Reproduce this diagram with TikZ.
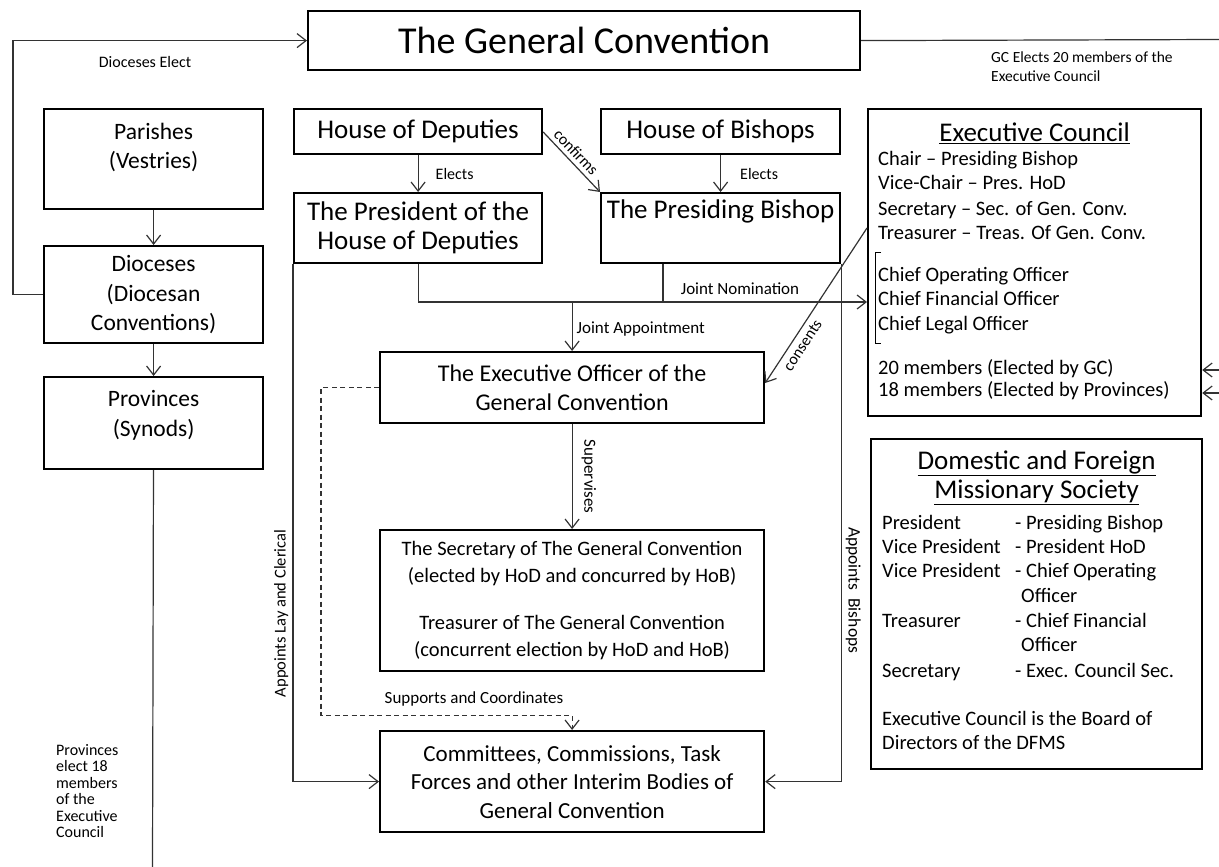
\documentclass[tikz,border=0pt]{standalone}
\usepackage{fontspec}
\setmainfont{Carlito}
\usetikzlibrary{arrows.meta,calc}

% box whose text sits at the top
\newcommand{\topbox}[4]{\parbox[c][#2][t]{#1}{\centering\vspace*{#3}#4}}

\tikzset{
  box/.style={draw, line width=2.2pt, inner sep=0pt, align=center,
    anchor=north west, font=\fontsize{23.5}{29.5}\selectfont},
  conn/.style={draw=black!80, line width=1.2pt},
  arr/.style={conn, -{Straight Barb[length=9pt,width=14pt]}},
  lbl/.style={font=\fontsize{16}{18}\selectfont, inner sep=1pt},
  ecline/.style={font=\fontsize{20.5}{24}\selectfont, anchor=west, inner sep=0pt,
    text height=1.5ex, text depth=.25ex},
  ectitle/.style={font=\fontsize{27}{30}\selectfont, inner sep=0pt},
}

\begin{document}
\begin{tikzpicture}[x=1pt, y=-1pt]
  \useasboundingbox (0,0) rectangle (1219,867);

  % Top box
  \node[box, minimum width=552pt, minimum height=59pt,
    font=\fontsize{38}{44}\selectfont] (gc) at (307,10) {The General Convention};

  % Left column
  \node[box] (parishes) at (43,108) {\topbox{219pt}{100pt}{14pt}{Parishes\\(Vestries)}};
  \node[box, minimum width=219pt, minimum height=97pt] (dioceses) at (43,245)
    {Dioceses\\(Diocesan\\Conventions)};
  \node[box] (provinces) at (43,376) {\topbox{219pt}{92pt}{13.5pt}{Provinces\\(Synods)}};

  % Houses and their officers
  \node[box, minimum width=248pt, minimum height=45pt,
    font=\fontsize{27}{29}\selectfont] (hod) at (293,108) {House of Deputies};
  \node[box, minimum width=239pt, minimum height=45pt,
    font=\fontsize{27}{29}\selectfont] (hob) at (600,108) {House of Bishops};
  \node[box, minimum width=248pt, minimum height=70pt,
    font=\fontsize{27}{29}\selectfont] (pres) at (293,192) {The President of the\\House of Deputies};
  \node[box, font=\fontsize{27}{29}\selectfont] (pb) at (600,192)
    {\topbox{239pt}{70pt}{7pt}{The Presiding Bishop}};

  % Middle column
  \node[box, minimum width=384pt, minimum height=71pt,
    font=\fontsize{24}{29}\selectfont] (eo) at (379,351)
    {The Executive Officer of the\\General Convention};
  \node[box, minimum width=384pt, minimum height=141pt,
    font=\fontsize{20.5}{27}\selectfont] (sec) at (379,529)
    {The Secretary of The General Convention\\(elected by HoD and concurred by HoB)\\[20pt]
     Treasurer of The General Convention\\(concurrent election by HoD and HoB)};
  \node[box, minimum width=384pt, minimum height=101pt,
    font=\fontsize{23}{28.5}\selectfont] (comm) at (379,730)
    {Committees, Commissions, Task\\Forces and other Interim Bodies of\\General Convention};

  % Executive Council
  \node[box, minimum width=333pt, minimum height=307pt] (ec) at (867,108) {};
  \node[ectitle] (ec-title) at (ec.north |- 0,133) {\underline{Executive Council}};
  \foreach \y/\t [count=\i] in {163/Chair – Presiding Bishop, 187/Vice-Chair – Pres. HoD,
      213/Secretary – Sec. of Gen. Conv., 237/Treasurer – Treas. Of Gen. Conv.,
      279/Chief Operating Officer, 303/Chief Financial Officer, 328/Chief Legal Officer,
      372/20 members (Elected by GC), 394/18 members (Elected by Provinces)}
    \node[ecline] (ec-\i) at (878,\y) {\t};
  \draw[line width=1pt] (881,252) -- (875,252) -- (875,343) -- (881,343);

  % DFMS
  \node[box, minimum width=331pt, minimum height=330pt] (dfms) at (870,438) {};
  \node[ectitle] (dfms-t1) at (dfms.north |- 0,463) {\underline{Domestic and Foreign}};
  \node[ectitle] (dfms-t2) at (dfms.north |- 0,492) {\underline{Missionary Society}};
  \foreach \y/\a/\b [count=\i] in {527/President/- Presiding Bishop,
      551/Vice President/- President HoD, 575/Vice President/- Chief Operating,
      625/Treasurer/- Chief Financial, 675/Secretary/- Exec. Council Sec.} {
    \node[ecline] (dfms-a\i) at (882,\y) {\a};
    \node[ecline] (dfms-b\i) at (1015,\y) {\b};
  }
  \node[ecline] (dfms-c1) at (1021,600) {Officer};
  \node[ecline] (dfms-c2) at (1021,649) {Officer};
  \node[ecline] (dfms-n1) at (882,723) {Executive Council is the Board of};
  \node[ecline] (dfms-n2) at (882,747) {Directors of the DFMS};

  % Dioceses elect the General Convention
  \draw[arr] (dioceses.west) -- ++(-30,0) |- (gc.west);
  \node[lbl] (dioelect) at (145,62) {Dioceses Elect};

  % GC elects members of the Executive Council
  \coordinate (gcout) at (1219,39.5);
  \draw[conn] (gc.east) -- (gcout);
  \node[lbl, anchor=north west, align=left, font=\fontsize{15.5}{19}\selectfont]
    (gcelect) at (990,51) {GC Elects 20 members of the\\Executive Council};
  \coordinate (ecin1) at (1219,370);
  \coordinate (ecin2) at (1219,393);
  \draw[arr] (ecin1) -- (ecin1 -| ec.east);
  \draw[arr] (ecin2) -- (ecin2 -| ec.east);

  % Left column flow
  \draw[arr] (parishes) -- (dioceses);
  \draw[arr] (dioceses) -- (provinces);
  \coordinate (provout) at (152.5,867);
  \draw[conn] (provinces) -- (provout);
  \node[lbl, anchor=north west, align=left, font=\fontsize{16}{16.5}\selectfont]
    (provelect) at (55,743) {Provinces\\elect 18\\members\\of the\\Executive\\Council};

  % Elections in the houses
  \draw[arr] (hod) -- node[lbl, right=16pt] (elects1) {Elects} (pres);
  \draw[arr] (hob) -- node[lbl, right=18pt] (elects2) {Elects} (pb);
  \draw[arr] ($(hod.north east)+(0,24)$) -- (pb.north west)
    node[lbl, pos=0.45, above=3pt, sloped] (conf) {confirms};

  % Joint nomination and appointment
  \coordinate (nom) at (663,302);
  \draw[arr] (pres) -- (pres |- nom) -- (nom -| ec.west);
  \draw[conn] (nom |- pb.south) -- (nom);
  \node[lbl, font=\fontsize{17}{19}\selectfont] (jn) at (740,289) {Joint Nomination};
  \draw[arr] (eo |- nom) -- (eo)
    node[lbl, pos=0.55, right=3pt, font=\fontsize{17}{19}\selectfont] (ja) {Joint Appointment};

  % Executive Council consents
  \coordinate (ecc) at (867,228);
  \draw[arr] (ecc) -- ($(eo.north east)+(0,32)$)
    node[lbl, pos=0.72, below=4pt, sloped] (cons) {consents};

  % Supervises
  \draw[arr] (eo) -- (sec)
    node[lbl, midway, anchor=south, rotate=-90, inner sep=9pt,
      font=\fontsize{17}{19}\selectfont] (sup) {Supervises};

  % Appointments to committees
  \draw[arr] (pres.south west)
    -- node[lbl, pos=0.675, anchor=south, rotate=90, inner sep=4pt,
      font=\fontsize{16.5}{19}\selectfont] (layapp) {Appoints Lay and Clerical}
    (pres.south west |- comm.west) -- (comm.west);
  \draw[arr] (pb.south east)
    -- node[lbl, pos=0.63, anchor=south, rotate=-90, inner sep=4pt,
      font=\fontsize{17.5}{19}\selectfont] (bishapp) {Appoints\ \ Bishops}
    (pb.south east |- comm.east) -- (comm.east);

  % Supports and coordinates
  \draw[arr, dashed, dash pattern=on 5pt off 3.5pt] (eo.west) -- ++(-58,0) -- ++(0,328) -| (comm.north);
  \node[lbl, font=\fontsize{17}{19}\selectfont] (sc) at (474,699) {Supports and Coordinates};
\end{tikzpicture}
\end{document}
